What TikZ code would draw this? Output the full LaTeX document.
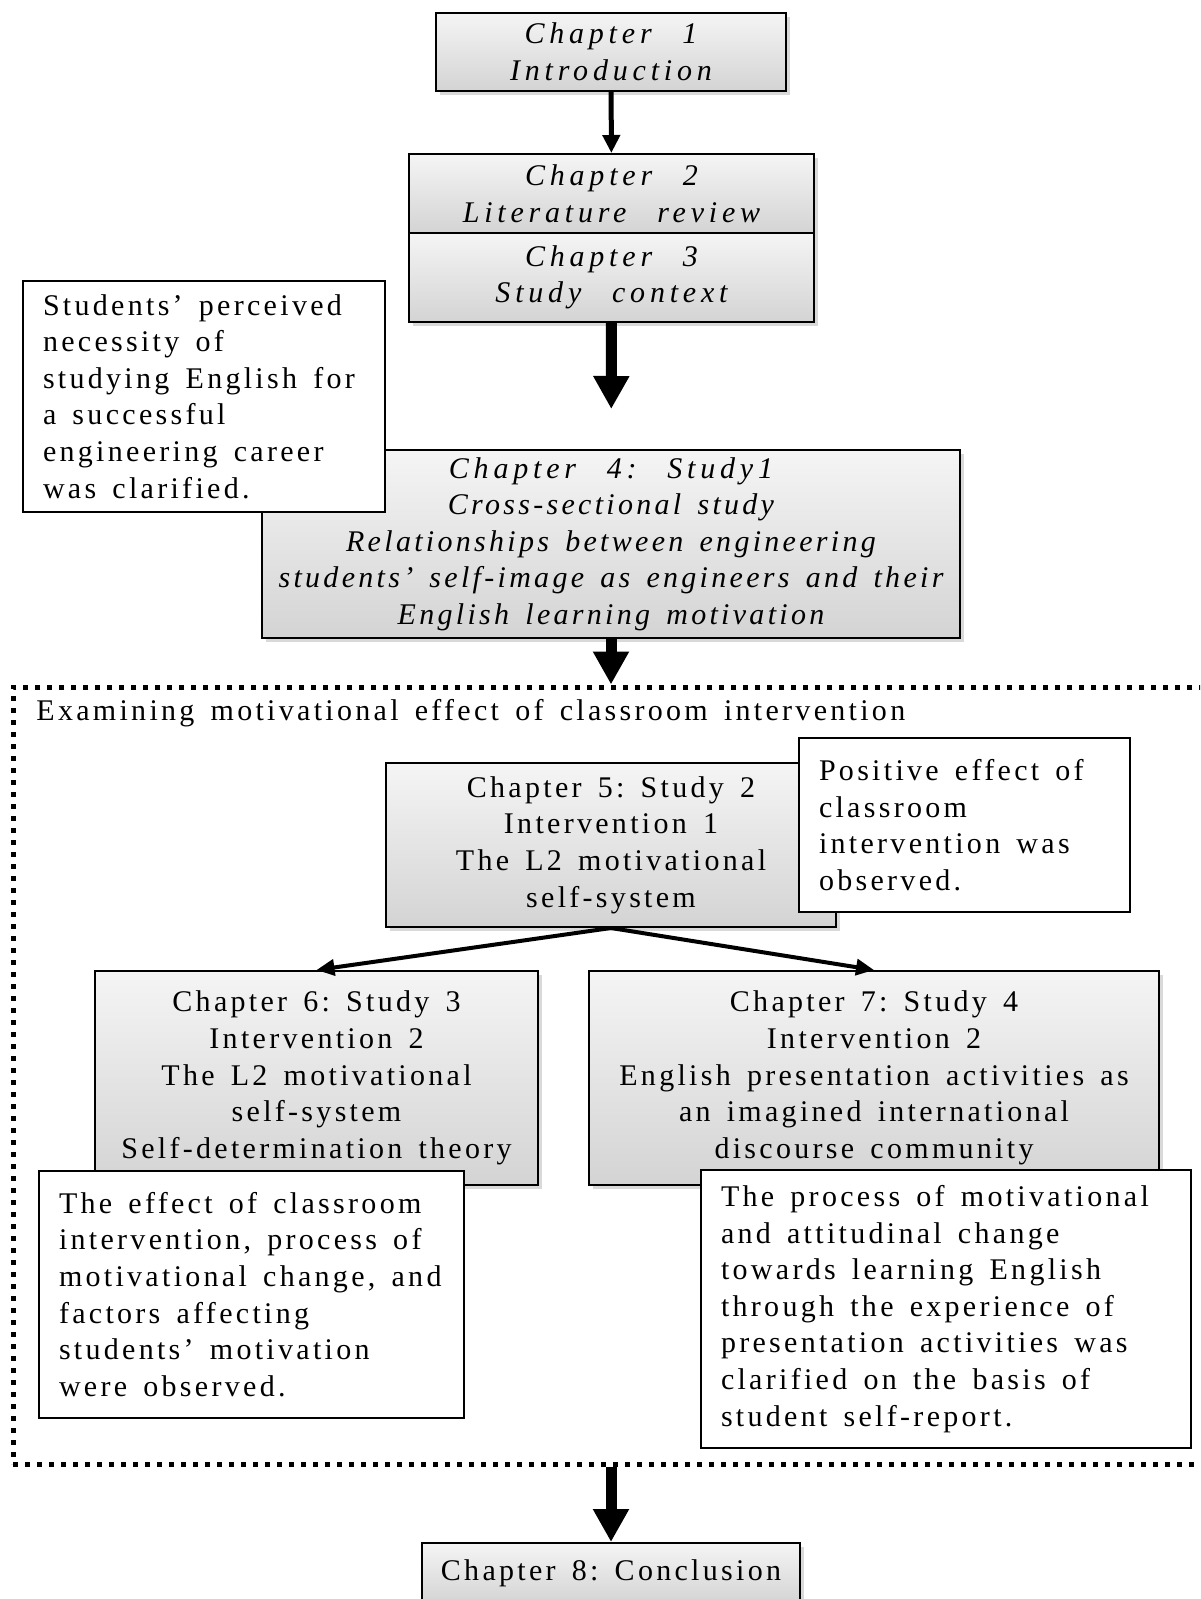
\documentclass[tikz,border=0pt]{standalone}
\usepackage{fontspec}
\setmainfont{Liberation Serif}[LetterSpace=11, WordSpace=1.5]
\newfontfamily\widefont{Liberation Serif}[LetterSpace=16, WordSpace=2.5]
\usepackage{tikz}
\usetikzlibrary{arrows.meta, shadows, positioning, calc}
\frenchspacing

\begin{document}
\begin{tikzpicture}[
    x=0.5pt, y=-0.5pt,
    font=\fontsize{15}{18.3}\selectfont,
    chap/.style={rectangle, draw, line width=1pt, top color=gray!8, bottom color=gray!34, align=center, inner sep=0pt, drop shadow={shadow xshift=2pt, shadow yshift=-2pt, opacity=0.3}},
    chapit/.style={chap, font=\fontsize{15}{18.3}\selectfont\widefont\itshape},
    note/.style={rectangle, draw, line width=0.6pt, fill=white, align=left, inner xsep=10pt, inner ysep=0pt, execute at begin node={\spaceskip=0pt\xspaceskip=0pt}},
    thinarrow/.style={-{Triangle[length=9pt,width=8.5pt]}, line width=2.5pt},
    bigarrow/.style={-{Triangle[length=16.5pt,width=17pt]}, line width=5.5pt},
    splitarrow/.style={-{Triangle[length=9pt,width=8pt]}, line width=2pt},
    framebox/.style={rectangle, draw, line width=2.5pt, dash pattern=on 2.5pt off 3.5pt, inner sep=0pt}
]
\useasboundingbox (0,0) rectangle (1200,1599);
\clip (0,0) rectangle (1200,1599);

% Chapters 1 to 3
\node[chapit, minimum width=175pt, minimum height=39pt] (ch1) at (611,52) {Chapter 1\\Introduction};
\node[chapit, minimum width=202.5pt, minimum height=39.5pt] (ch2) at (611.5,193.5) {Chapter 2\\Literature review};
\node[chapit, minimum width=202.5pt, minimum height=44.5pt] (ch3) at (611.5,277.5) {Chapter 3\\Study context};

% Study 1
\node[chap, font=\fontsize{15}{18.3}\selectfont\itshape, minimum width=349pt, minimum height=94pt] (ch4) at (611,544) {{\widefont Chapter 4: Study1}\\Cross-sectional study\\Relationships between engineering\\students’ self-image as engineers and their\\English learning motivation};
\node[note, text width=161pt, minimum height=115.5pt] (note4) at (204,396.5) {Students’ perceived\\necessity of\\studying English for\\a successful\\engineering career\\was clarified.};

% Intervention studies
\node[framebox, minimum width=598.5pt, minimum height=388.5pt] (frame) at (611.5,1075.5) {};
\node[anchor=west, inner sep=0pt] (framelabel) at (36,713) {Examining motivational effect of classroom intervention};

\node[chap, minimum width=225pt, minimum height=82pt] (ch5) at (611,845) {Chapter 5: Study 2\\Intervention 1\\The L2 motivational\\self-system};
\node[note, text width=145.5pt, minimum height=87pt] (note5) at (964.5,825) {Positive effect of\\classroom\\intervention was\\observed.};

\node[chap, minimum width=221.5pt, minimum height=107pt] (ch6) at (316.5,1078) {Chapter 6: Study 3\\Intervention 2\\The L2 motivational\\self-system\\Self-determination theory};
\node[chap, minimum width=285pt, minimum height=107pt] (ch7) at (874,1078) {Chapter 7: Study 4\\Intervention 2\\English presentation activities as\\an imagined international\\discourse community};

\node[note, text width=192.5pt, minimum height=123.5pt] (note6) at (251.5,1294.5) {The effect of classroom\\intervention, process of\\motivational change, and\\factors affecting\\students’ motivation\\were observed.};
\node[note, text width=225pt, minimum height=139pt] (note7) at (946,1309) {The process of motivational\\and attitudinal change\\towards learning English\\through the experience of\\presentation activities was\\clarified on the basis of\\student self-report.};

% Conclusion
\node[chap, minimum width=189pt, minimum height=30pt] (ch8) at (611,1573) {Chapter 8: Conclusion};

% Connections
\draw[thinarrow] (ch1) -- (ch2);
\draw[bigarrow, shorten >=20pt] (ch3) -- (ch4);
\draw[bigarrow] (ch4.south) -- (ch4.south |- frame.north);
\draw[splitarrow] (ch5.south) -- (ch6.north);
\draw[splitarrow] (ch5.south) -- (ch7.north);
\draw[bigarrow] (frame.south -| ch8.north) -- (ch8.north);

\end{tikzpicture}
\end{document}
